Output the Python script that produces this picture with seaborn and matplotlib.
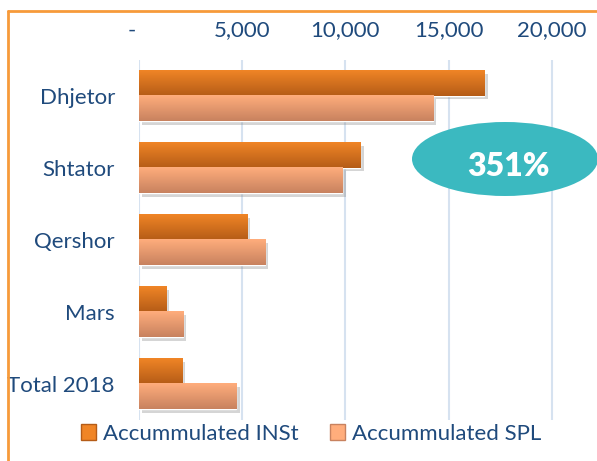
import numpy as np
import pandas as pd
import matplotlib
matplotlib.use("Agg")
import matplotlib.pyplot as plt
import matplotlib.patheffects as pe
import matplotlib.transforms as mtransforms
from matplotlib.patches import Ellipse, Patch
from matplotlib.lines import Line2D
from matplotlib.colors import to_rgb
import seaborn as sns

# ---------------------------------------------------
# Daten
# ---------------------------------------------------
categories = ["Dhjetor", "Shtator", "Qershor", "Mars", "Total 2018"]
series_names = ["Accummulated INSt", "Accummulated SPL"]
inst_values = [16720, 10720, 5250, 1330, 2100]
spl_values = [14230, 9850, 6120, 2150, 4720]
tick_values = [0, 5000, 10000, 15000, 20000]
badge_text = "351%"

# Farben (oben -> unten Verlauf)
grad_colors = {
    "Accummulated INSt": ("#F08526", "#B55C17"),
    "Accummulated SPL": ("#FFAD7C", "#C8825F"),
}
text_color = "#1F4A7C"
grid_color = "#D6E2F0"

df = pd.DataFrame({
    "Kategorie": categories * 2,
    "Serie": [series_names[0]] * len(categories) + [series_names[1]] * len(categories),
    "Wert": inst_values + spl_values,
})

sns.set_style("white")
plt.rcParams["font.family"] = ["Lato", "DejaVu Sans"]

W, H = 597, 461
fig = plt.figure(figsize=(W / 100, H / 100), dpi=100)
ax = fig.add_axes([138.5 / W, 1 - 420 / H, 434 / W, 360 / H])

sns.barplot(
    data=df, x="Wert", y="Kategorie", hue="Serie",
    order=categories, hue_order=series_names,
    orient="h", width=0.7, palette=[grad_colors[s][0] for s in series_names],
    legend=False, ax=ax, saturation=1,
)

# ---------------------------------------------------
# Verlauf + Schatten auf den Balken
# ---------------------------------------------------
bars = [p for p in ax.patches if p.get_width() > 0]
n = len(categories)
for i, bar in enumerate(bars):
    serie = series_names[i // n]
    top_c, bot_c = (np.array(to_rgb(c)) for c in grad_colors[serie])
    t = np.linspace(0, 1, 64)[:, None]
    grad = (top_c * (1 - t) + bot_c * t)[:, None, :]
    x0, y0 = bar.get_x(), bar.get_y()
    w, h = bar.get_width(), bar.get_height()
    ax.imshow(grad, extent=[x0, x0 + w, y0 + h, y0], origin="upper",
              aspect="auto", zorder=3, interpolation="bilinear")
    bar.set_path_effects([pe.SimplePatchShadow(offset=(2.5, -2.5), shadow_rgbFace="#888888", alpha=0.35),
                          pe.Normal()])
    bar.set_zorder(2.5)

ax.set_xlim(0, 21000)
ax.set_ylim(len(categories) - 0.5, -0.5)

ax.xaxis.tick_top()
ax.set_xticks(tick_values)
ax.set_xticklabels(["-" if v == 0 else f"{v:,.0f}" for v in tick_values])
ax.tick_params(axis="x", length=0, labelsize=16, labelcolor=text_color, pad=14)
ax.tick_params(axis="y", length=0, labelsize=16, labelcolor=text_color, pad=17)
ax.set_xlabel("")
ax.set_ylabel("")
ax.grid(axis="x", color=grid_color, linewidth=1.5, zorder=0)
ax.set_axisbelow(True)
for s in ax.spines.values():
    s.set_visible(False)

# "-" wie bei Excel-Buchhaltungsformat leicht nach links
zero_lbl = ax.get_xticklabels()[0]
zero_lbl.set_transform(zero_lbl.get_transform() +
                       mtransforms.ScaledTranslation(-0.065, 0, fig.dpi_scale_trans))

# ---------------------------------------------------
# Legende
# ---------------------------------------------------
handles = [Patch(facecolor=grad_colors[s][0], edgecolor=grad_colors[s][1]) for s in series_names]
fig.legend(handles, series_names, loc="center", bbox_to_anchor=(311 / W, 1 - 434 / H),
           ncol=2, frameon=False, fontsize=16, labelcolor=text_color,
           handlelength=0.7, handleheight=0.7, handletextpad=0.3, columnspacing=1.4)

# ---------------------------------------------------
# Ellipse mit Prozentwert
# ---------------------------------------------------
fig.add_artist(Ellipse((505 / W, 1 - 159 / H), 186 / W, 74 / H,
                       transform=fig.transFigure, facecolor="#3BB9C0", edgecolor="none", zorder=5))
fig.text(508 / W, 1 - 166 / H, badge_text, transform=fig.transFigure, ha="center", va="center",
         fontsize=23, fontweight="heavy", color="white", zorder=6)

# orangener Rahmen (links + oben)
fig.add_artist(Line2D([7.5 / W, 1], [1 - 11 / H, 1 - 11 / H], transform=fig.transFigure,
                      color="#F79A3A", linewidth=2))
fig.add_artist(Line2D([7.5 / W, 7.5 / W], [0, 1 - 11 / H], transform=fig.transFigure,
                      color="#F79A3A", linewidth=2))

plt.savefig("out.png", dpi=100)
plt.close()
